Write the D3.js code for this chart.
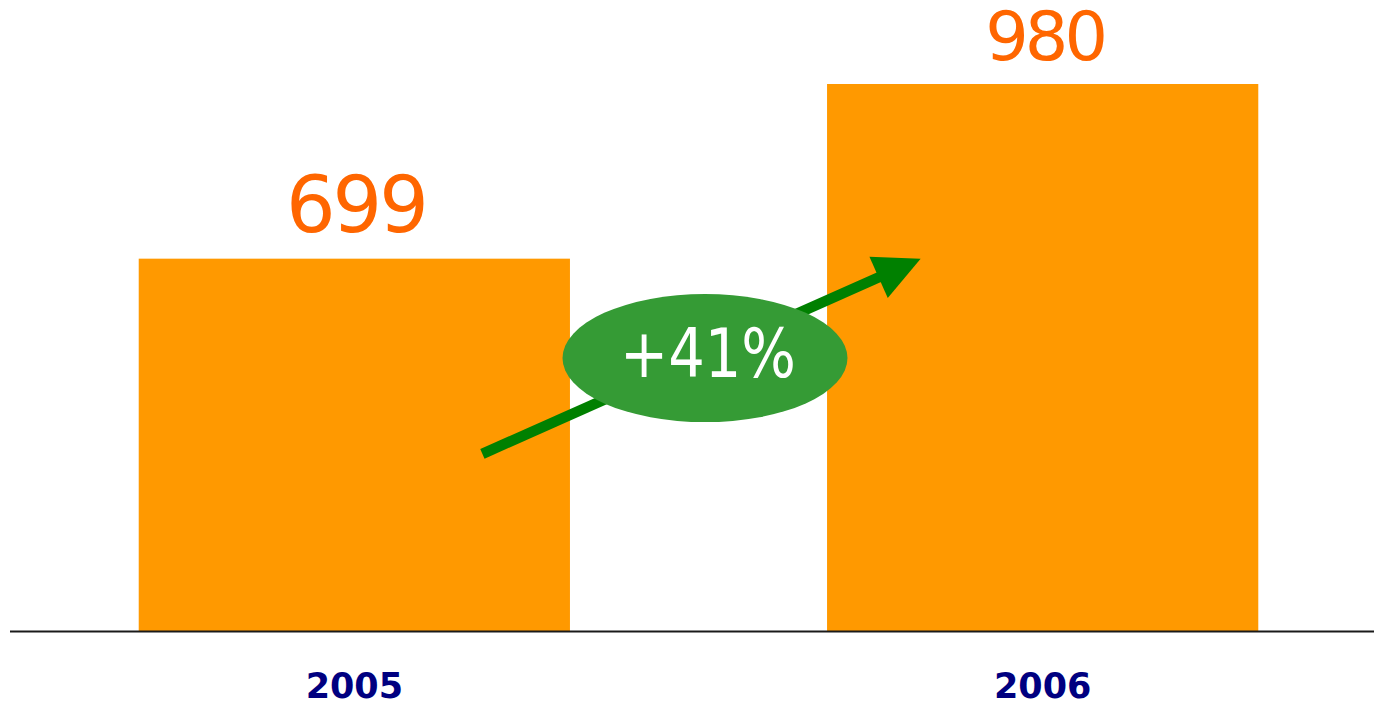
<!DOCTYPE html>
<html>
<head>
<meta charset="utf-8">
<script src="https://cdn.jsdelivr.net/npm/d3@7/dist/d3.min.js"></script>
<style>
  html, body { margin: 0; padding: 0; background: #fff; }
  svg { display: block; }
</style>
</head>
<body>
<svg id="chart" width="1374" height="705"></svg>
<script>
// Yearly totals
const years = ["2005", "2006"];
const values = [699, 980];
const growthLabel = "+41%";

const W = 1374, H = 705;
const svg = d3.select("#chart");

const x = d3.scaleBand()
  .domain(years)
  .range([10, 1387])
  .paddingInner(0.3735)
  .paddingOuter(0.187);

const y = d3.scaleLinear()
  .domain([100, 980])
  .range([631, 84]);

const data = years.map((yr, i) => ({ year: yr, value: values[i] }));

// Bars
svg.append("g")
  .selectAll("rect")
  .data(data)
  .join("rect")
  .attr("x", d => x(d.year))
  .attr("y", d => y(d.value))
  .attr("width", x.bandwidth())
  .attr("height", d => y.range()[0] - y(d.value))
  .attr("fill", "#FF9900");

// Value labels above bars (the later bar uses a smaller type size)
const labelSizes = [78, 68.5];
const labelSpacing = [-3, -4];
const labelGap = [27, 24];
svg.append("g")
  .selectAll("text")
  .data(data)
  .join("text")
  .attr("x", (d, i) => x(d.year) + x.bandwidth() / 2 - labelSpacing[i] / 2)
  .attr("y", (d, i) => y(d.value) - labelGap[i])
  .attr("text-anchor", "middle")
  .attr("font-family", "'DejaVu Sans', sans-serif")
  .attr("letter-spacing", (d, i) => labelSpacing[i])
  .attr("font-size", (d, i) => labelSizes[i])
  .attr("fill", "#FF6600")
  .text(d => d.value);

// Baseline axis
const xAxis = d3.axisBottom(x).tickSize(0).tickPadding(0);
const axisG = svg.append("g")
  .attr("transform", `translate(0,${y.range()[0]})`)
  .call(xAxis);
axisG.select(".domain").remove();
axisG.append("line")
  .attr("x1", 10).attr("x2", W)
  .attr("y1", 0.5).attr("y2", 0.5)
  .attr("stroke", "#1a1a1a")
  .attr("stroke-width", 2);
axisG.selectAll(".tick text")
  .attr("dy", null)
  .attr("y", 67)
  .attr("font-family", "'DejaVu Sans', sans-serif")
  .attr("font-weight", "bold")
  .attr("font-size", 35)
  .attr("fill", "#000080");

// Growth arrow from the first bar towards the second
const b0 = data[0], b1 = data[1];
const tail = [x(b0.year) + 0.797 * x.bandwidth(), y(385)];
const tip = [x(b1.year) + 0.217 * x.bandwidth(), y(b0.value)];
const ang = Math.atan2(tip[1] - tail[1], tip[0] - tail[0]);
const headLen = 46, headHalf = 22.5;
const base = [tip[0] - headLen * Math.cos(ang), tip[1] - headLen * Math.sin(ang)];
const px = -Math.sin(ang), py = Math.cos(ang);

const arrowG = svg.append("g");
arrowG.append("line")
  .attr("x1", tail[0]).attr("y1", tail[1])
  .attr("x2", base[0] + 4 * Math.cos(ang)).attr("y2", base[1] + 4 * Math.sin(ang))
  .attr("stroke", "#008000")
  .attr("stroke-width", 10.5);
arrowG.append("path")
  .attr("d", d3.line()([
    tip,
    [base[0] + px * headHalf, base[1] + py * headHalf],
    [base[0] - px * headHalf, base[1] - py * headHalf]
  ]) + "Z")
  .attr("fill", "#008000");

// Growth badge
const cx = (x(b0.year) + x.bandwidth() + x(b1.year)) / 2 + 6.5;
const cy = y(539);
svg.append("ellipse")
  .attr("cx", cx).attr("cy", cy)
  .attr("rx", 142.5).attr("ry", 64)
  .attr("fill", "#359B35");
svg.append("text")
  .attr("x", cx + 3)
  .attr("y", cy + 19)
  .attr("text-anchor", "middle")
  .attr("font-family", "'DejaVu Sans', sans-serif")
  .attr("font-size", 68)
  .attr("textLength", 176)
  .attr("lengthAdjust", "spacingAndGlyphs")
  .attr("fill", "#ffffff")
  .text(growthLabel);
</script>
</body>
</html>
